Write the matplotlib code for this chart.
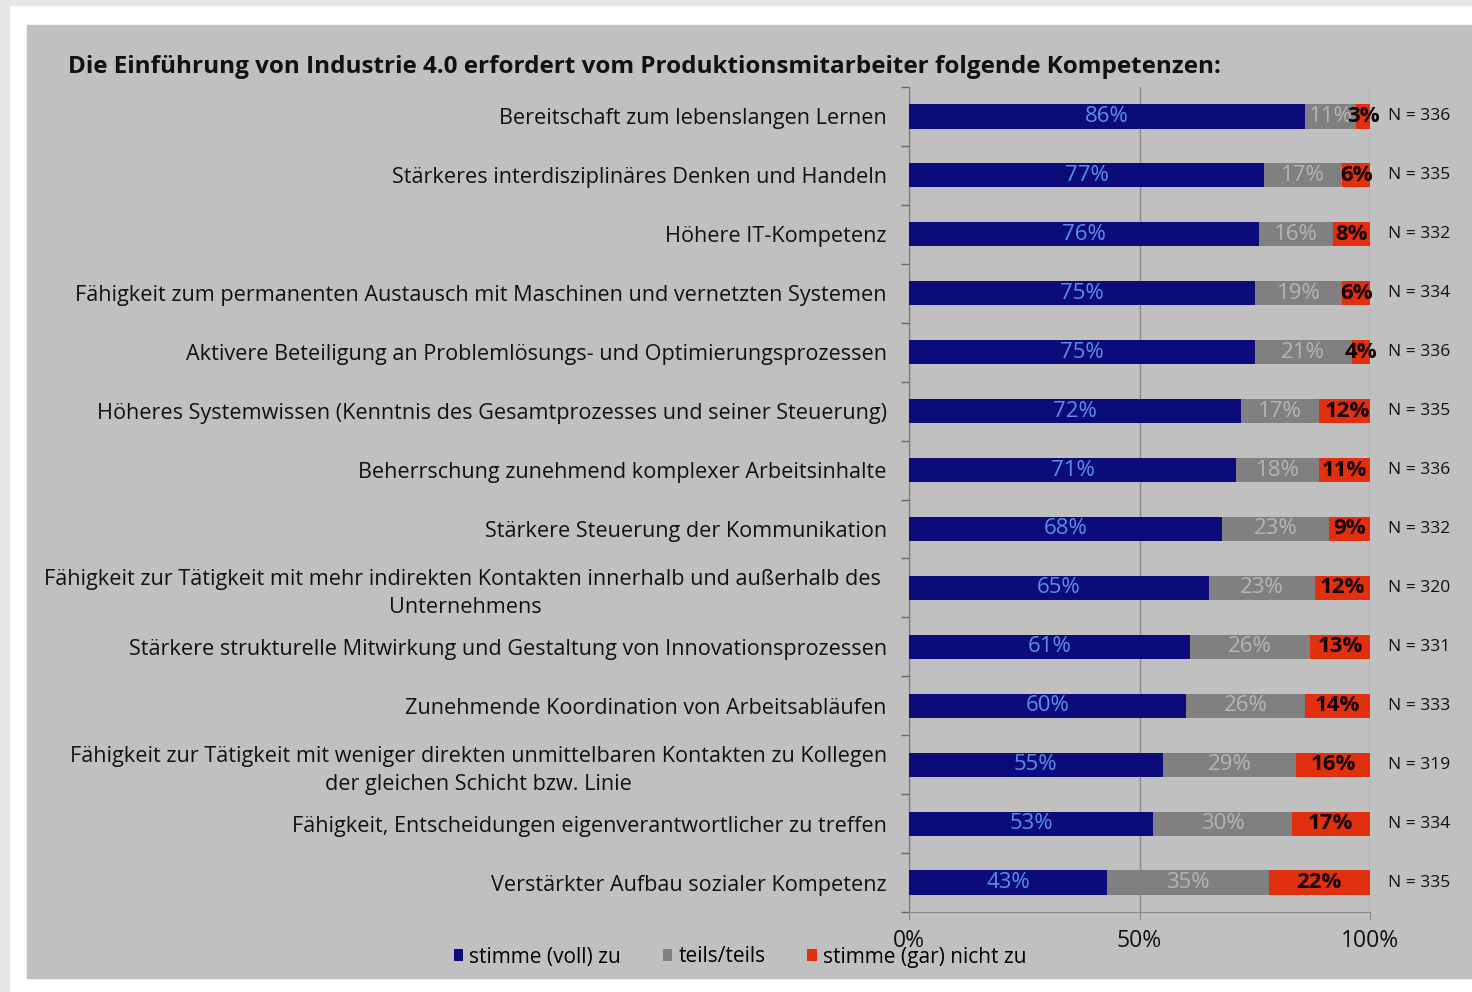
import numpy as np
import matplotlib.pyplot as plt
from matplotlib.patches import Rectangle

# ── Data ──────────────────────────────────────────────────────────────────────
categories = [
    "Bereitschaft zum lebenslangen Lernen",
    "Stärkeres interdisziplinäres Denken und Handeln",
    "Höhere IT-Kompetenz",
    "Fähigkeit zum permanenten Austausch mit Maschinen und vernetzten Systemen",
    "Aktivere Beteiligung an Problemlösungs- und Optimierungsprozessen",
    "Höheres Systemwissen (Kenntnis des Gesamtprozesses und seiner Steuerung)",
    "Beherrschung zunehmend komplexer Arbeitsinhalte",
    "Stärkere Steuerung der Kommunikation",
    "Fähigkeit zur Tätigkeit mit mehr indirekten Kontakten innerhalb und außerhalb des \nUnternehmens",
    "Stärkere strukturelle Mitwirkung und Gestaltung von Innovationsprozessen",
    "Zunehmende Koordination von Arbeitsabläufen",
    "Fähigkeit zur Tätigkeit mit weniger direkten unmittelbaren Kontakten zu Kollegen\nder gleichen Schicht bzw. Linie",
    "Fähigkeit, Entscheidungen eigenverantwortlicher zu treffen",
    "Verstärkter Aufbau sozialer Kompetenz",
]
agree    = [86, 77, 76, 75, 75, 72, 71, 68, 65, 61, 60, 55, 53, 43]
neutral  = [11, 17, 16, 19, 21, 17, 18, 23, 23, 26, 26, 29, 30, 35]
disagree = [3, 6, 8, 6, 4, 12, 11, 9, 12, 13, 14, 16, 17, 22]
n_resp   = [336, 335, 332, 334, 336, 335, 336, 332, 320, 331, 333, 319, 334, 335]
series_names = ["stimme (voll) zu", "teils/teils", "stimme (gar) nicht zu"]

BLUE = "#0b0b7a"
GREY = "#808080"
RED = "#e0300f"
BG = "#c0c0c0"

plt.rcParams["font.family"] = ["Open Sans", "DejaVu Sans"]

W, H = 1472, 992
fig = plt.figure(figsize=(W / 100, H / 100), dpi=100, facecolor="white")

# screenshot framing
fig.patches.append(Rectangle((0, 1 - 5 / H), 1, 5 / H, transform=fig.transFigure,
                             color="#e6e6e6", zorder=-2))
fig.patches.append(Rectangle((0, 0), 9 / W, 1, transform=fig.transFigure,
                             color="#e6e6e6", zorder=-2))
fig.patches.append(Rectangle((27 / W, 1 - 978 / H), 1 - 27 / W, (978 - 25) / H,
                             transform=fig.transFigure, color=BG, zorder=-1))

ax = fig.add_axes([909 / W, 1 - 912 / H, (1370 - 909) / W, (912 - 87) / H])
ax.set_zorder(2)
ax.set_facecolor(BG)

y = np.arange(len(categories))
agree = np.array(agree)
neutral = np.array(neutral)
disagree = np.array(disagree)
h = 0.41

b1 = ax.barh(y, agree, height=h, color=BLUE, label=series_names[0], zorder=3)
b2 = ax.barh(y, neutral, left=agree, height=h, color=GREY, label=series_names[1], zorder=3)
b3 = ax.barh(y, disagree, left=agree + neutral, height=h, color=RED, label=series_names[2], zorder=3)

for i in range(len(categories)):
    ax.text(agree[i] / 2, y[i], f"{agree[i]}%", ha="center", va="center",
            fontsize=16, color="#5c8ee6", zorder=4)
    ax.text(agree[i] + neutral[i] / 2, y[i], f"{neutral[i]}%", ha="center", va="center",
            fontsize=16, color="#b5b5b5", zorder=4)
    ax.text(agree[i] + neutral[i] + disagree[i] / 2, y[i], f"{disagree[i]}%", ha="center",
            va="center", fontsize=16, color="#150000", fontweight="bold", zorder=5)
    ax.text(103.9, y[i], f"N = {n_resp[i]}", ha="left", va="center", fontsize=12.5,
            color="#111111", family=["Liberation Sans Narrow", "Open Sans", "DejaVu Sans"])

ax.set_xlim(0, 100)
ax.set_ylim(len(categories) - 0.5, -0.5)
ax.set_yticks(y)
ax.set_yticklabels(categories, fontsize=15.6, color="#111111")
for lbl in ax.get_yticklabels():
    lbl.set_multialignment("center")
    lbl.set_linespacing(1.4)
ax.set_yticks(np.arange(len(categories) + 1) - 0.5, minor=True)
ax.tick_params(axis="y", which="major", length=0, pad=16)
ax.tick_params(axis="y", which="minor", length=6, color="#666666", width=1)

ax.set_xticks([0, 50, 100])
ax.set_xticklabels(["0%", "50%", "100%"], fontsize=16.5, color="#111111")
ax.tick_params(axis="x", length=6, color="#888888", pad=6)
ax.grid(axis="x", color="#8a8a8a", linewidth=1, zorder=1)

for s in ["top", "right"]:
    ax.spines[s].set_visible(False)
ax.spines["left"].set_color("#777777")
ax.spines["bottom"].set_color("#888888")

fig.text(68 / W, 1 - 67 / H,
         "Die Einführung von Industrie 4.0 erfordert vom Produktionsmitarbeiter folgende Kompetenzen:",
         fontsize=17.5, fontweight="bold", color="#111111", va="center", ha="left")

fig.legend(handles=[b1, b2, b3], labels=series_names, loc="center",
           bbox_to_anchor=(740 / W, 1 - 957 / H), ncol=3, frameon=False,
           fontsize=15, handlelength=0.45, handleheight=0.45, handletextpad=0.3,
           columnspacing=2.0)

fig.savefig("out.png", dpi=100, facecolor="white")
